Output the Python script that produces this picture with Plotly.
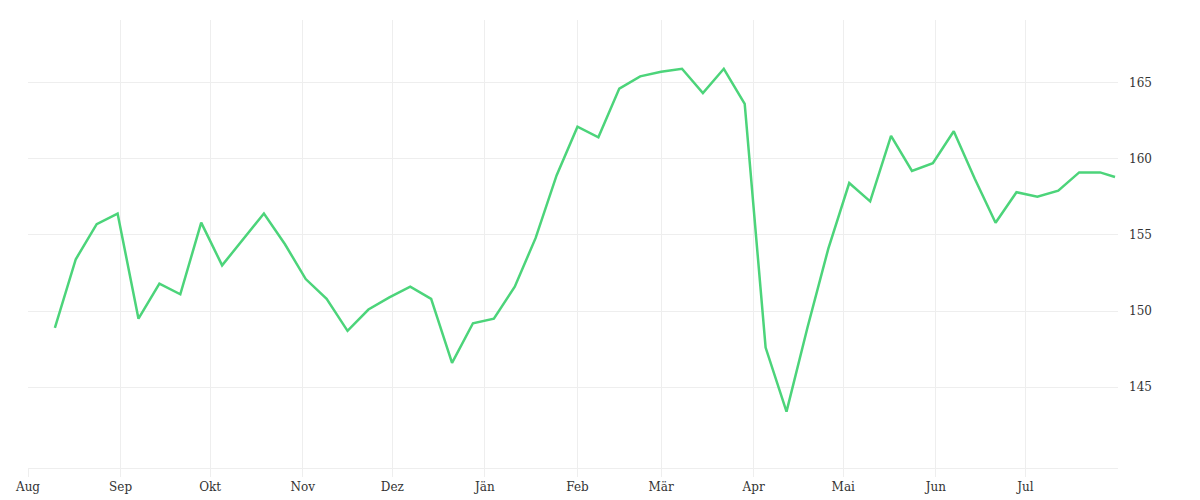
import pandas as pd
import plotly.graph_objects as go

# weekly closing values, Aug 2022 - Jul 2023
dates = list(pd.date_range("2022-08-10", periods=51, freq="7D").strftime("%Y-%m-%d")) + ["2023-07-31"]
prices = [
    148.9, 153.4, 155.7, 156.4, 149.5, 151.8, 151.1, 155.8, 153.0, 154.7,
    156.4, 154.4, 152.1, 150.8, 148.7, 150.1, 150.9, 151.6, 150.8, 146.6,
    149.2, 149.5, 151.6, 154.8, 158.9, 162.1, 161.4, 164.6, 165.4, 165.7,
    165.9, 164.3, 165.9, 163.6, 147.6, 143.4, 148.9, 154.1, 158.4, 157.2,
    161.5, 159.2, 159.7, 161.8, 158.7, 155.8, 157.8, 157.5, 157.9, 159.1,
    159.1, 158.8,
]
month_ticks = pd.date_range("2022-08-01", periods=12, freq="MS").strftime("%Y-%m-%d").tolist()
month_labels = ["Aug", "Sep", "Okt", "Nov", "Dez", "Jän", "Feb", "Mär", "Apr", "Mai", "Jun", "Jul"]

fig = go.Figure(go.Scatter(
    x=dates, y=prices, mode="lines",
    line=dict(color="#4cd47a", width=2.5),
))

fig.update_layout(
    width=1200, height=500,
    margin=dict(l=20, r=90, t=12, b=40),
    plot_bgcolor="white", paper_bgcolor="white",
    font=dict(family="DejaVu Serif", size=12, color="#333"),
    showlegend=False,
)
fig.update_xaxes(
    range=["2022-08-01", "2023-08-01"],
    tickvals=month_ticks, ticktext=month_labels,
    showgrid=True, gridcolor="#eeeeee", automargin=False,
    ticks="outside", ticklen=8, tickcolor="#eeeeee",
    showline=True, linecolor="#eeeeee",
)
fig.update_yaxes(
    side="right", range=[139.7, 169.1],
    tickvals=[145, 150, 155, 160, 165], automargin=False,
    showgrid=True, gridcolor="#eeeeee", zeroline=False,
    ticks="", ticklabelstandoff=10,
)

fig.write_html("out.html")
